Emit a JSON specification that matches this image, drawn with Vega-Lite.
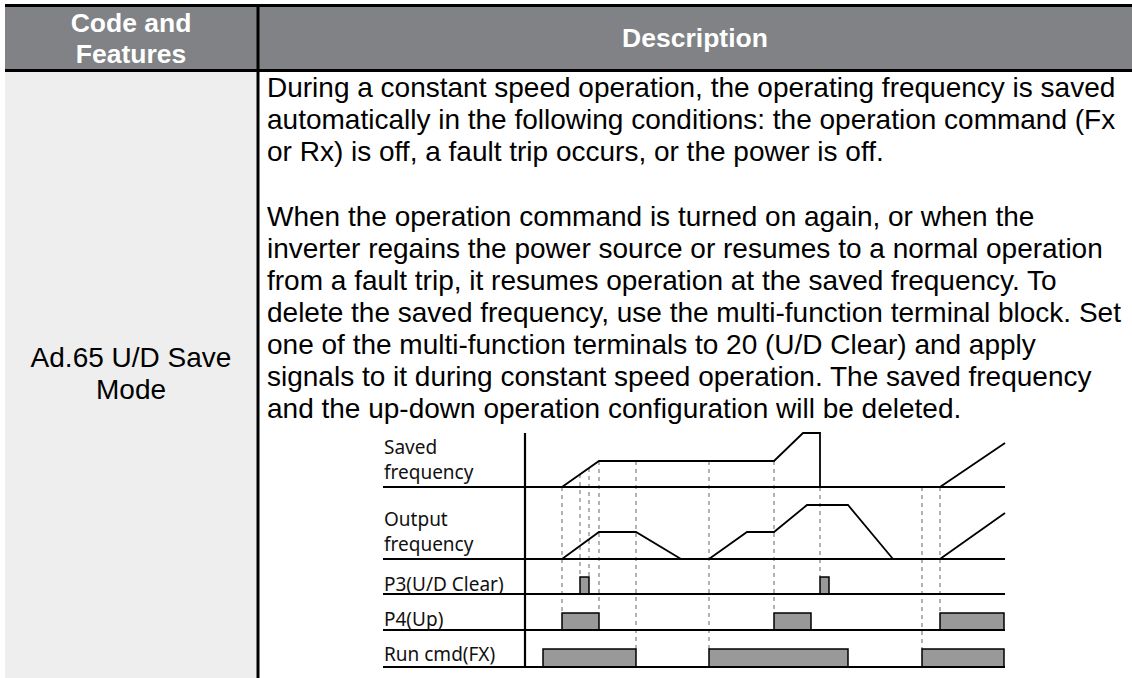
{
  "$schema": "https://vega.github.io/schema/vega-lite/v6.json",
  "width": 1132,
  "height": 678,
  "autosize": "none",
  "padding": 0,
  "background": "white",
  "config": {"view": {"stroke": null}},
  "datasets": {
    "cells": [
      {"kind": "header", "x": 5, "x2": 1132, "y": 5, "y2": 70},
      {"kind": "label", "x": 5, "x2": 258, "y": 71, "y2": 678}
    ],
    "borders": [
      {"x": 5, "x2": 1132, "y": 5.5, "y2": 5.5},
      {"x": 5, "x2": 1132, "y": 70.5, "y2": 70.5},
      {"x": 258, "x2": 258, "y": 4, "y2": 678}
    ],
    "headerText": [
      {"x": 131, "y": 32, "text": "Code and"},
      {"x": 131, "y": 63, "text": "Features"},
      {"x": 695, "y": 47, "text": "Description"}
    ],
    "labelText": [
      {"x": 131, "y": 367, "text": "Ad.65 U/D Save"},
      {"x": 131, "y": 399, "text": "Mode"}
    ],
    "bodyText": [
      {"x": 267, "y": 97, "text": "During a constant speed operation, the operating frequency is saved"},
      {"x": 267, "y": 129, "text": "automatically in the following conditions: the operation command (Fx"},
      {"x": 267, "y": 161, "text": "or Rx) is off, a fault trip occurs, or the power is off."},
      {"x": 267, "y": 226, "text": "When the operation command is turned on again, or when the"},
      {"x": 267, "y": 258, "text": "inverter regains the power source or resumes to a normal operation"},
      {"x": 267, "y": 290, "text": "from a fault trip, it resumes operation at the saved frequency. To"},
      {"x": 267, "y": 322, "text": "delete the saved frequency, use the multi-function terminal block. Set"},
      {"x": 267, "y": 354, "text": "one of the multi-function terminals to 20 (U/D Clear) and apply"},
      {"x": 267, "y": 386, "text": "signals to it during constant speed operation. The saved frequency"},
      {"x": 267, "y": 418, "text": "and the up-down operation configuration will be deleted."}
    ],
    "diagramText": [
      {"x": 384, "y": 454, "text": "Saved"},
      {"x": 384, "y": 479, "text": "frequency"},
      {"x": 384, "y": 526, "text": "Output"},
      {"x": 384, "y": 551, "text": "frequency"},
      {"x": 384, "y": 591, "text": "P3(U/D Clear)"},
      {"x": 384, "y": 626, "text": "P4(Up)"},
      {"x": 384, "y": 661, "text": "Run cmd(FX)"}
    ],
    "dashes": [
      {"x": 562, "y": 487, "y2": 613},
      {"x": 580, "y": 474, "y2": 577},
      {"x": 589, "y": 468, "y2": 577},
      {"x": 599, "y": 461, "y2": 613},
      {"x": 636, "y": 461, "y2": 649},
      {"x": 709, "y": 461, "y2": 649},
      {"x": 774, "y": 461, "y2": 613},
      {"x": 820, "y": 487, "y2": 577},
      {"x": 922, "y": 487, "y2": 649},
      {"x": 940, "y": 487, "y2": 613}
    ],
    "pulses": [
      {"signal": "P3", "x": 580, "x2": 589, "y": 577, "y2": 594},
      {"signal": "P3", "x": 820, "x2": 829, "y": 577, "y2": 594},
      {"signal": "P4", "x": 562, "x2": 599, "y": 613, "y2": 630},
      {"signal": "P4", "x": 774, "x2": 811, "y": 613, "y2": 630},
      {"signal": "P4", "x": 940, "x2": 1004, "y": 613, "y2": 630},
      {"signal": "Run", "x": 543, "x2": 636, "y": 649, "y2": 667},
      {"signal": "Run", "x": 709, "x2": 848, "y": 649, "y2": 667},
      {"signal": "Run", "x": 922, "x2": 1004, "y": 649, "y2": 667}
    ],
    "waves": [
      {"series": "saved1", "order": 1, "x": 562, "y": 487},
      {"series": "saved1", "order": 2, "x": 599, "y": 461},
      {"series": "saved1", "order": 3, "x": 774, "y": 461},
      {"series": "saved1", "order": 4, "x": 803, "y": 433},
      {"series": "saved1", "order": 5, "x": 820, "y": 433},
      {"series": "saved1", "order": 6, "x": 820, "y": 487},
      {"series": "saved2", "order": 1, "x": 940, "y": 487},
      {"series": "saved2", "order": 2, "x": 1005, "y": 443},
      {"series": "out1", "order": 1, "x": 562, "y": 559},
      {"series": "out1", "order": 2, "x": 599, "y": 532},
      {"series": "out1", "order": 3, "x": 636, "y": 532},
      {"series": "out1", "order": 4, "x": 681, "y": 559},
      {"series": "out2", "order": 1, "x": 709, "y": 559},
      {"series": "out2", "order": 2, "x": 747, "y": 532},
      {"series": "out2", "order": 3, "x": 774, "y": 532},
      {"series": "out2", "order": 4, "x": 807, "y": 505},
      {"series": "out2", "order": 5, "x": 848, "y": 505},
      {"series": "out2", "order": 6, "x": 893, "y": 559},
      {"series": "out3", "order": 1, "x": 940, "y": 559},
      {"series": "out3", "order": 2, "x": 1005, "y": 513}
    ],
    "axes": [
      {"x": 383, "x2": 1005, "y": 487, "y2": 487},
      {"x": 383, "x2": 1005, "y": 559, "y2": 559},
      {"x": 383, "x2": 1005, "y": 594, "y2": 594},
      {"x": 383, "x2": 1005, "y": 630, "y2": 630},
      {"x": 383, "x2": 1005, "y": 667, "y2": 667},
      {"x": 525, "x2": 525, "y": 433, "y2": 667}
    ]
  },
  "layer": [
    {
      "data": {"name": "cells"},
      "mark": {"type": "rect"},
      "encoding": {
        "x": {"field": "x", "type": "quantitative", "scale": {"domain": [0, 1132], "nice": false, "zero": false}, "axis": null},
        "x2": {"field": "x2"},
        "y": {"field": "y", "type": "quantitative", "scale": {"domain": [0, 678], "reverse": true, "nice": false, "zero": false}, "axis": null},
        "y2": {"field": "y2"},
        "color": {"field": "kind", "type": "nominal", "scale": {"domain": ["header", "label"], "range": ["#808285", "#eeeeee"]}, "legend": null}
      }
    },
    {
      "data": {"name": "dashes"},
      "mark": {"type": "rule", "stroke": "#808080", "strokeWidth": 1.2, "strokeDash": [4, 4]},
      "encoding": {
        "x": {"field": "x", "type": "quantitative"},
        "y": {"field": "y", "type": "quantitative"},
        "y2": {"field": "y2"}
      }
    },
    {
      "data": {"name": "pulses"},
      "mark": {"type": "rect", "fill": "#999999", "stroke": "#000000", "strokeWidth": 1.5},
      "encoding": {
        "x": {"field": "x", "type": "quantitative"},
        "x2": {"field": "x2"},
        "y": {"field": "y", "type": "quantitative"},
        "y2": {"field": "y2"}
      }
    },
    {
      "data": {"name": "waves"},
      "mark": {"type": "line", "stroke": "#000000", "strokeWidth": 1.8},
      "encoding": {
        "x": {"field": "x", "type": "quantitative"},
        "y": {"field": "y", "type": "quantitative"},
        "detail": {"field": "series", "type": "nominal"},
        "order": {"field": "order", "type": "quantitative"}
      }
    },
    {
      "data": {"name": "axes"},
      "mark": {"type": "rule", "stroke": "#000000", "strokeWidth": 2.2},
      "encoding": {
        "x": {"field": "x", "type": "quantitative"},
        "x2": {"field": "x2"},
        "y": {"field": "y", "type": "quantitative"},
        "y2": {"field": "y2"}
      }
    },
    {
      "data": {"name": "borders"},
      "mark": {"type": "rule", "stroke": "#000000", "strokeWidth": 3},
      "encoding": {
        "x": {"field": "x", "type": "quantitative"},
        "x2": {"field": "x2"},
        "y": {"field": "y", "type": "quantitative"},
        "y2": {"field": "y2"}
      }
    },
    {
      "data": {"name": "headerText"},
      "mark": {"type": "text", "font": "Arial", "fontSize": 26.5, "fontWeight": "bold", "fill": "#ffffff", "align": "center", "baseline": "alphabetic"},
      "encoding": {
        "x": {"field": "x", "type": "quantitative"},
        "y": {"field": "y", "type": "quantitative"},
        "text": {"field": "text"}
      }
    },
    {
      "data": {"name": "labelText"},
      "mark": {"type": "text", "font": "Arial", "fontSize": 28, "fill": "#000000", "align": "center", "baseline": "alphabetic"},
      "encoding": {
        "x": {"field": "x", "type": "quantitative"},
        "y": {"field": "y", "type": "quantitative"},
        "text": {"field": "text"}
      }
    },
    {
      "data": {"name": "bodyText"},
      "mark": {"type": "text", "font": "Arial", "fontSize": 28, "fill": "#000000", "align": "left", "baseline": "alphabetic"},
      "encoding": {
        "x": {"field": "x", "type": "quantitative"},
        "y": {"field": "y", "type": "quantitative"},
        "text": {"field": "text"}
      }
    },
    {
      "data": {"name": "diagramText"},
      "mark": {"type": "text", "font": "Noto Sans", "fontSize": 19, "fill": "#111111", "align": "left", "baseline": "alphabetic"},
      "encoding": {
        "x": {"field": "x", "type": "quantitative"},
        "y": {"field": "y", "type": "quantitative"},
        "text": {"field": "text"}
      }
    }
  ]
}
